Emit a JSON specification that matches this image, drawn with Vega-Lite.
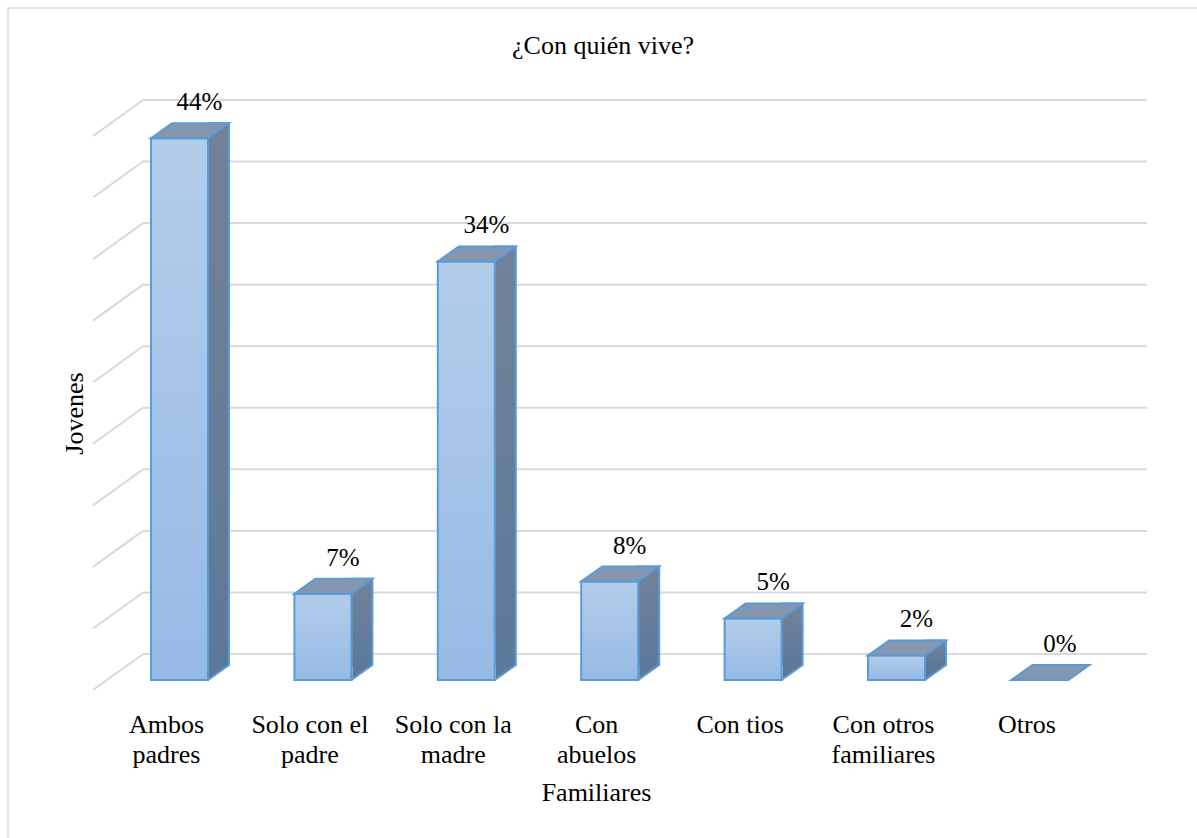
{
  "$schema": "https://vega.github.io/schema/vega-lite/v6.json",
  "width": 1190,
  "height": 831,
  "autosize": {"type": "none"},
  "padding": {"left": 8, "top": 8, "right": -1, "bottom": -1},
  "background": "white",
  "config": {
    "view": {"stroke": "#d9d9d9", "strokeWidth": 1.5},
    "font": "Liberation Serif",
    "axisX": {
      "labelAngle": 0, "labelPadding": 0, "ticks": false, "domain": false, "grid": false,
      "offset": -127.5, "labelBaseline": "top", "labelLineHeight": 30, "labelOffset": -13,
      "labelFont": "Liberation Serif", "labelFontSize": 26, "labelColor": "#000000",
      "labelLimit": 0, "labelOverlap": false, "labelFlush": false,
      "titleX": 588, "titleY": 88.5, "titleBaseline": "alphabetic", "titleAlign": "center",
      "titleFont": "Liberation Serif", "titleFontSize": 26, "titleFontWeight": "normal", "titleColor": "#000000"
    },
    "axisY": {
      "labels": false, "ticks": false, "domain": false, "grid": false,
      "titleX": 74, "titleY": 405, "titleAngle": 270, "titleAlign": "center", "titleBaseline": "alphabetic",
      "titleFont": "Liberation Serif", "titleFontSize": 26, "titleFontWeight": "normal", "titleColor": "#000000"
    }
  },
  "title": {
    "text": "¿Con quién vive?",
    "font": "Liberation Serif",
    "fontSize": 26,
    "fontWeight": "normal",
    "color": "#000000",
    "anchor": "middle",
    "frame": "group",
    "baseline": "alphabetic",
    "offset": -72
  },
  "datasets": {
    "familiares": [
      {"familiar": "Ambos\npadres", "porcentaje": 0.44},
      {"familiar": "Solo con el\npadre", "porcentaje": 0.07},
      {"familiar": "Solo con la\nmadre", "porcentaje": 0.34},
      {"familiar": "Con\nabuelos", "porcentaje": 0.08},
      {"familiar": "Con tios", "porcentaje": 0.05},
      {"familiar": "Con otros\nfamiliares", "porcentaje": 0.02},
      {"familiar": "Otros", "porcentaje": 0.0}
    ],
    "rejilla": [
      {"nivel": 0.0}, {"nivel": 0.05}, {"nivel": 0.1}, {"nivel": 0.15}, {"nivel": 0.2},
      {"nivel": 0.25}, {"nivel": 0.3}, {"nivel": 0.35}, {"nivel": 0.4}, {"nivel": 0.45}
    ]
  },
  "layer": [
    {
      "data": {"name": "rejilla"},
      "mark": {"type": "rule", "color": "#d9d9d9", "strokeWidth": 2, "xOffset": -36.5, "x2Offset": 107, "yOffset": -26},
      "encoding": {
        "x": {"datum": "Ambos\npadres", "type": "nominal",
              "axis": {"title": "Familiares", "labelExpr": "split(datum.label, '\\n')"},
              "scale": {"type": "band", "domain": ["Ambos\npadres", "Solo con el\npadre", "Solo con la\nmadre", "Con\nabuelos", "Con tios", "Con otros\nfamiliares", "Otros"], "range": [99.8, 1103.6], "paddingInner": 0, "paddingOuter": 0}},
        "x2": {"datum": "Otros"},
        "y": {"field": "nivel", "type": "quantitative", "axis": {"title": "Jovenes"},
              "scale": {"type": "linear", "domain": [0, 0.45], "range": [672, 118], "nice": false, "zero": false}}
      }
    },
    {
      "data": {"name": "rejilla"},
      "mark": {"type": "rule", "color": "#d9d9d9", "strokeWidth": 2, "xOffset": -86.5, "x2Offset": -36.5, "yOffset": 10, "y2Offset": -26},
      "encoding": {
        "x": {"datum": "Ambos\npadres", "type": "nominal", "axis": {"title": "Familiares", "labelExpr": "split(datum.label, '\\n')"}},
        "x2": {"datum": "Ambos\npadres"},
        "y": {"field": "nivel", "type": "quantitative", "axis": {"title": "Jovenes"}},
        "y2": {"field": "nivel"}
      }
    },
    {
      "data": {"name": "familiares"},
      "transform": [{"filter": "datum.porcentaje > 0"}],
      "mark": {
        "type": "bar", "width": 21, "xOffset": 39, "yOffset": -15, "y2Offset": -15,
        "fill": {"x1": 0, "y1": 0, "x2": 0, "y2": 1, "gradient": "linear",
                 "stops": [{"offset": 0, "color": "#718299"}, {"offset": 1, "color": "#5d7999"}]},
        "stroke": "#5b9bd5", "strokeWidth": 2
      },
      "encoding": {
        "x": {"field": "familiar", "type": "nominal", "axis": {"title": "Familiares", "labelExpr": "split(datum.label, '\\n')"}},
        "y": {"field": "porcentaje", "type": "quantitative", "axis": {"title": "Jovenes"}},
        "y2": {"datum": 0}
      }
    },
    {
      "data": {"name": "familiares"},
      "transform": [{"filter": "datum.porcentaje > 0"}],
      "mark": {
        "type": "point", "shape": "M29.5,-16.5L48.5,-16.5L48.5,-14.3L29.5,-0.7Z", "size": 4,
        "filled": true, "fill": "#5d7999", "strokeWidth": 0, "opacity": 1
      },
      "encoding": {
        "x": {"field": "familiar", "type": "nominal", "axis": {"title": "Familiares", "labelExpr": "split(datum.label, '\\n')"}},
        "y": {"datum": 0, "type": "quantitative", "axis": {"title": "Jovenes"}}
      }
    },
    {
      "data": {"name": "familiares"},
      "transform": [{"filter": "datum.porcentaje > 0"}],
      "mark": {
        "type": "point", "shape": "M28.5,0L49.5,-15", "size": 4,
        "filled": false, "stroke": "#5b9bd5", "strokeWidth": 2, "opacity": 1
      },
      "encoding": {
        "x": {"field": "familiar", "type": "nominal", "axis": {"title": "Familiares", "labelExpr": "split(datum.label, '\\n')"}},
        "y": {"datum": 0, "type": "quantitative", "axis": {"title": "Jovenes"}}
      }
    },
    {
      "data": {"name": "familiares"},
      "mark": {
        "type": "bar", "width": 57,
        "fill": {"x1": 0, "y1": 0, "x2": 0, "y2": 1, "gradient": "linear",
                 "stops": [{"offset": 0, "color": "#b2cdea"}, {"offset": 1, "color": "#96bae5"}]},
        "stroke": "#5b9bd5", "strokeWidth": 2
      },
      "encoding": {
        "x": {"field": "familiar", "type": "nominal", "axis": {"title": "Familiares", "labelExpr": "split(datum.label, '\\n')"}},
        "y": {"field": "porcentaje", "type": "quantitative", "axis": {"title": "Jovenes"}},
        "y2": {"datum": 0}
      }
    },
    {
      "data": {"name": "familiares"},
      "mark": {
        "type": "point", "shape": "M-28.5,0L28.5,0L49.5,-15L-7.5,-15Z", "size": 4,
        "filled": true, "fill": "#8597b0", "stroke": "#5b9bd5", "strokeWidth": 2, "opacity": 1
      },
      "encoding": {
        "x": {"field": "familiar", "type": "nominal", "axis": {"title": "Familiares", "labelExpr": "split(datum.label, '\\n')"}},
        "y": {"field": "porcentaje", "type": "quantitative", "axis": {"title": "Jovenes"}}
      }
    },
    {
      "data": {"name": "familiares"},
      "mark": {
        "type": "text", "dx": 20, "dy": -28, "align": "center", "baseline": "alphabetic",
        "font": "Liberation Serif", "fontSize": 25, "color": "#000000"
      },
      "encoding": {
        "x": {"field": "familiar", "type": "nominal", "axis": {"title": "Familiares", "labelExpr": "split(datum.label, '\\n')"}},
        "y": {"field": "porcentaje", "type": "quantitative", "axis": {"title": "Jovenes"}},
        "text": {"field": "porcentaje", "type": "quantitative", "format": ".0%"}
      }
    }
  ]
}
